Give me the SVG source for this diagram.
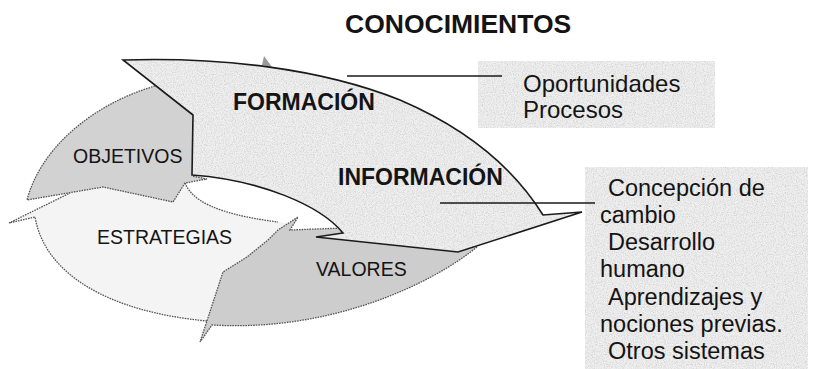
<svg xmlns="http://www.w3.org/2000/svg" xmlns:xlink="http://www.w3.org/1999/xlink" width="815" height="369" viewBox="0 0 815 369">
<style>
text{font-family:"Liberation Sans",Arial,sans-serif;fill:#141414}
.b{font-weight:bold}
.dot{fill:none;stroke:#555;stroke-width:1.3;stroke-dasharray:1.6 1}
.solid{fill:none;stroke:#1a1a1a;stroke-width:1.6;stroke-linejoin:miter}
.lbl{font-size:19.5px}
.box{font-size:23.5px}
</style>
<defs>
<filter id="tex" x="0" y="0" width="1" height="1">
<feTurbulence type="fractalNoise" baseFrequency="0.9" numOctaves="2" seed="4" result="noise"/>
<feColorMatrix in="noise" type="matrix" values="0 0 0 0 0.6  0 0 0 0 0.6  0 0 0 0 0.6  1.9 0 0 0 -0.75" result="dots"/>
<feComposite in="dots" in2="SourceAlpha" operator="in" result="clip"/>
<feMerge><feMergeNode in="SourceGraphic"/><feMergeNode in="clip"/></feMerge>
</filter>
<path id="bigP" d="M123,60 C220,57 320,68 400,100 C470,130 515,170 543,215 L582,212 L458,252 L316,237 L343,233 C320,205 260,180 192,175 L193,115 Z"/>
</defs>

<g id="estrategias">
<path d="M9,223 L70,193 L103,187 L173,202 L185,183 C192,200 215,214 278,222 L290,224 L250,260 L215,300 L207,321 C110,312 45,275 35,217 Z" fill="#f4f4f4"/>
<path class="dot" d="M185,183 C192,200 215,214 278,222 M207,321 C110,312 45,275 35,217 L9,223 L70,193"/>
<text class="lbl" x="97" y="244">ESTRATEGIAS</text>
</g>

<g id="objetivos">
<path d="M155,86 C90,105 40,150 27,200 L103,187 L173,202 L185,183 L207,179 L192,176 L195,115 Z" fill="#d2d2d2"/>
<path class="dot" d="M155,86 C90,105 40,150 27,200 L103,187 L173,202 L185,183 L207,179 L192,176"/>
<text class="lbl" x="73" y="163">OBJETIVOS</text>
</g>

<g id="valores">
<path d="M200,342 L223,272 L247,257 L268,240 L278,230 L298,217 L290,230 L343,228 L470,228 L477,247 C430,285 330,332 212,325 Z" fill="#cdcdcd"/>
<path class="dot" d="M477,247 C430,285 330,332 212,325 L200,342 L223,272 L247,257 L268,240 L278,230 L298,217 L290,230 L343,228"/>
<path d="M262,65 L264,56 L272,67 Z" fill="#9a9a9a"/>
<text class="lbl" x="316" y="276">VALORES</text>
</g>

<g id="formacion-informacion">
<use xlink:href="#bigP" fill="#f0f0f0" filter="url(#tex)"/>
<use xlink:href="#bigP" class="solid"/>
<text class="b" x="233" y="110" font-size="23">FORMACIÓN</text>
<text class="b" x="338" y="185" font-size="23">INFORMACIÓN</text>
</g>

<g id="title">
<text class="b" x="345" y="33" font-size="26.5">CONOCIMIENTOS</text>
</g>

<g id="box-oportunidades">
<rect x="478" y="61" width="237" height="67" fill="#f0f0f0" filter="url(#tex)"/>
<text x="523" y="92" font-size="24">Oportunidades</text>
<text x="523" y="118" font-size="24">Procesos</text>
</g>

<g id="box-concepcion">
<rect x="585" y="167" width="223" height="202" fill="#f0f0f0" filter="url(#tex)"/>
<text class="box" x="608" y="196">Concepción de</text>
<text class="box" x="600" y="223">cambio</text>
<text class="box" x="608" y="250">Desarrollo</text>
<text class="box" x="600" y="277">humano</text>
<text class="box" x="608" y="305">Aprendizajes y</text>
<text class="box" x="600" y="332">nociones previas.</text>
<text class="box" x="608" y="359">Otros sistemas</text>
</g>

<g id="connectors" stroke="#1a1a1a" stroke-width="1.6">
<line x1="347" y1="76" x2="502" y2="76"/>
<line x1="440" y1="203" x2="595" y2="203"/>
</g>
</svg>
